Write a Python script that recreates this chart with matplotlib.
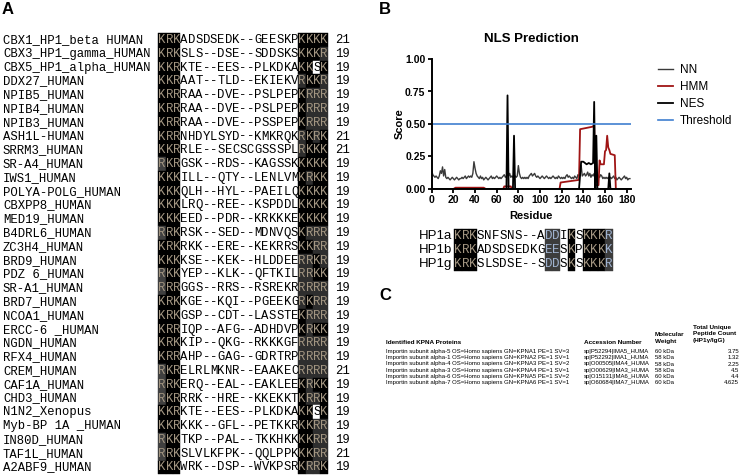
#!/usr/bin/env python
# coding: utf-8

import numpy as np
import matplotlib
matplotlib.use('Agg')
import matplotlib.pyplot as plt
from matplotlib.patches import Rectangle

# --- Panel A: KRK motif alignment ---
names = ['CBX1_HP1_beta HUMAN', 'CBX3_HP1_gamma_HUMAN', 'CBX5_HP1_alpha_HUMAN', 'DDX27_HUMAN',
         'NPIB5_HUMAN', 'NPIB4_HUMAN', 'NPIB3_HUMAN', 'ASH1L-HUMAN', 'SRRM3_HUMAN', 'SR-A4_HUMAN',
         'IWS1_HUMAN', 'POLYA-POLG_HUMAN', 'CBXPP8_HUMAN', 'MED19_HUMAN', 'B4DRL6_HUMAN',
         'ZC3H4_HUMAN', 'BRD9_HUMAN', 'PDZ 6_HUMAN', 'SR-A1_HUMAN', 'BRD7_HUMAN', 'NCOA1_HUMAN',
         'ERCC-6 _HUMAN', 'NGDN_HUMAN', 'RFX4_HUMAN', 'CREM_HUMAN', 'CAF1A_HUMAN', 'CHD3_HUMAN',
         'N1N2_Xenopus', 'Myb-BP 1A _HUMAN', 'IN80D_HUMAN', 'TAF1L_HUMAN', 'A2ABF9_HUMAN']
prefix = ['KRK', 'KRK', 'KKR', 'KKR', 'KRR', 'KRR', 'KRR', 'KRR', 'KKR', 'RKR', 'KKK', 'KKK',
          'KKK', 'KKK', 'RRK', 'KRK', 'KKK', 'RKK', 'RRR', 'KRK', 'KRK', 'KRR', 'KRK', 'KRR',
          'RKR', 'RRK', 'RKR', 'KKR', 'KKR', 'RKK', 'RRK', 'KKK']
middle = ['ADSDSEDK--GEESKP', 'SLS--DSE--SDDSKS', 'KTE--EES--PLKDKA', 'AAT--TLD--EKIEKV',
          'RAA--DVE--PSLPEP', 'RAA--DVE--PSLPEP', 'RAA--DVE--PSSPEP', 'NHDYLSYD--KMKRQK',
          'RLE--SECSCGSSSPL', 'GSK--RDS--KAGSSK', 'ILL--QTY--LENLVM', 'QLH--HYL--PAEILQ',
          'LRQ--REE--KSPDDL', 'EED--PDR--KRKKKE', 'RSK--SED--MDNVQS', 'RKK--ERE--KEKRRS',
          'KSE--KEK--HLDDEE', 'YEP--KLK--QFTKIL', 'GGS--RRS--RSREKR', 'KGE--KQI--PGEEKG',
          'GSP--CDT--LASSTE', 'IQP--AFG--ADHDVP', 'KIP--QKG--RKKKGF', 'AHP--GAG--GDRTRP',
          'ELRLMKNR--EAAKEC', 'ERQ--EAL--EAKLEE', 'RRK--HRE--KKEKKT', 'KTE--EES--PLKDKA',
          'KKK--GFL--PETKKR', 'TKP--PAL--TKKHKK', 'SLVLKFPK--QQLPPK', 'WRK--DSP--WVKPSR']
tail = ['KKKK', 'KKKR', 'KKSK', 'RKKR', 'KRRR', 'KRRR', 'KRRR', 'RKRK', 'RKKK', 'KKKK',
        'KRKK', 'KKKK', 'KKKK', 'KKKK', 'KRRR', 'KKRR', 'RRKR', 'RRKK', 'RRRR', 'RKRR',
        'KRRR', 'KRKK', 'RRRR', 'RRRR', 'RRRR', 'KRKK', 'KRRK', 'KKSK', 'KKRR', 'KKRR',
        'KKRR', 'KRRK']
lengths = [21, 19, 19, 19, 19, 19, 19, 21, 21, 19, 19, 19, 19, 19, 19, 19, 19, 19, 19, 19,
           19, 19, 19, 19, 21, 19, 19, 19, 19, 19, 21, 19]

# --- Panel B: NLS prediction for HP1 ---
residues = np.arange(184)
nn_score = [0.14, 0.11, 0.10, 0.09, 0.10, 0.09, 0.08, 0.10, 0.14, 0.12,
            0.17, 0.10, 0.15, 0.09, 0.08, 0.09, 0.08, 0.07, 0.08, 0.09,
            0.08, 0.07, 0.08, 0.09, 0.08, 0.07, 0.08, 0.08, 0.09, 0.08,
            0.09, 0.10, 0.08, 0.09, 0.10, 0.09, 0.10, 0.09, 0.12, 0.21,
            0.16, 0.12, 0.10, 0.09, 0.08, 0.10, 0.08, 0.09, 0.07, 0.08,
            0.09, 0.08, 0.07, 0.08, 0.09, 0.10, 0.08, 0.09, 0.08, 0.09,
            0.10, 0.09, 0.08, 0.09, 0.08, 0.09, 0.10, 0.11, 0.09, 0.10,
            0.11, 0.10, 0.12, 0.09, 0.10, 0.09, 0.11, 0.10, 0.09, 0.10,
            0.18, 0.12, 0.09, 0.08, 0.09, 0.08, 0.09, 0.08, 0.09, 0.08,
            0.10, 0.11, 0.12, 0.10, 0.11, 0.12, 0.10, 0.09, 0.10, 0.09,
            0.08, 0.09, 0.10, 0.09, 0.08, 0.09, 0.10, 0.09, 0.08, 0.09,
            0.08, 0.09, 0.10, 0.09, 0.08, 0.09, 0.08, 0.10, 0.09, 0.08,
            0.09, 0.08, 0.09, 0.08, 0.10, 0.11, 0.09, 0.10, 0.09, 0.08,
            0.09, 0.08, 0.10, 0.09, 0.08, 0.11, 0.10, 0.12, 0.18, 0.10,
            0.11, 0.12, 0.10, 0.11, 0.13, 0.10, 0.12, 0.09, 0.11, 0.10,
            0.12, 0.11, 0.10, 0.09, 0.10, 0.09, 0.11, 0.10, 0.08, 0.09,
            0.08, 0.09, 0.08, 0.09, 0.08, 0.09, 0.08, 0.09, 0.10, 0.08,
            0.09, 0.07, 0.08, 0.09, 0.08, 0.07, 0.08, 0.09, 0.10, 0.08,
            0.09, 0.07, 0.08, 0.08]
nes_res = [0, 69, 70, 71, 75, 76, 77, 136, 138, 140, 143, 145, 147, 149, 150, 151, 152, 153,
           163, 164, 165, 183]
nes_score = [0, 0, 0.72, 0, 0, 0.41, 0, 0, 0.21, 0.21, 0.19, 0.20, 0.19, 0.20, 0.67, 0, 0.41, 0,
             0, 0.12, 0, 0]
hmm_res = [0, 20, 22, 48, 50, 66, 67, 73, 74, 118, 119, 136, 137, 149, 150, 151, 154, 155,
           156, 159, 160, 161, 162, 163, 164, 165, 169, 170, 183]
hmm_score = [0, 0, 0.01, 0.01, 0, 0, 0.02, 0.02, 0, 0, 0.05, 0.07, 0.46, 0.48, 0.50, 0.03,
             0.03, 0.22, 0.19, 0.19, 0.29, 0.30, 0.41, 0.32, 0.30, 0.27, 0.26, 0, 0]
threshold = 0.5

hp1_names = ['HP1a', 'HP1b', 'HP1g']
hp1_seqs = ['KRKSNFSNS--ADDIKSKKKR', 'KRKADSDSEDKGEESKPKKKK', 'KRKSLSDSE--SDDSKSKKKR']
hp1_black_cols = [0, 1, 2, 15, 17, 18, 19]
hp1_gray_cols = [12, 13, 20]

# --- Panel C: KPNA proteins ---
kpna_proteins = ['Importin subunit alpha-5 OS=Homo sapiens GN=KPNA1 PE=1 SV=3',
                 'Importin subunit alpha-1 OS=Homo sapiens GN=KPNA2 PE=1 SV=1',
                 'Importin subunit alpha-4 OS=Homo sapiens GN=KPNA3 PE=1 SV=2',
                 'Importin subunit alpha-3 OS=Homo sapiens GN=KPNA4 PE=1 SV=1',
                 'Importin subunit alpha-6 OS=Homo sapiens GN=KPNA5 PE=1 SV=2',
                 'Importin subunit alpha-7 OS=Homo sapiens GN=KPNA6 PE=1 SV=1']
kpna_accession = ['sp|P52294|IMA5_HUMA', 'sp|P52292|IMA1_HUMA', 'sp|O00505|IMA4_HUMA',
                  'sp|O00629|IMA3_HUMA', 'sp|O15131|IMA6_HUMA', 'sp|O60684|IMA7_HUMA']
kpna_weight = ['60 kDa', '58 kDa', '58 kDa', '58 kDa', '60 kDa', '60 kDa']
kpna_peptides = ['3.75', '1.32', '2.25', '4.5', '4.4', '4.625']

MONO = 'Liberation Mono'
SANS = 'Liberation Sans'
LETTER_ON_BLACK = '#a39682'


def draw_cell(ax, x, y, w, h, ch, bg, fg, fs):
	ax.add_patch(Rectangle((x, y - h / 2), w, h, facecolor=bg, edgecolor=bg, lw=0.3))
	ax.text(x + w / 2, y, ch, ha='center', va='center', family=MONO, fontsize=fs, color=fg)


def panel_a(ax):
	ax.text(2, 10, 'A', fontsize=12, fontweight='bold', family=SANS, va='center')
	y0, dy, cw, fs = 40.0, 13.79, 7.37, 8.8
	x_name, x_pre = 3.0, 158.3
	x_mid = x_pre + 3 * cw
	x_tail = x_mid + 16 * cw
	for i, name in enumerate(names):
		y = y0 + i * dy
		ax.text(x_name, y, name, ha='left', va='center', family=MONO, fontsize=fs)
		for j, ch in enumerate(prefix[i]):
			bg = '#404040' if (j == 0 and ch == 'R') else 'black'
			draw_cell(ax, x_pre + j * cw, y, cw, dy, ch, bg, LETTER_ON_BLACK, fs)
		for j, ch in enumerate(middle[i]):
			ax.text(x_mid + (j + 0.5) * cw, y, ch, ha='center', va='center', family=MONO, fontsize=fs)
		for j, ch in enumerate(tail[i]):
			if ch == 'S':
				bg, fg = 'white', 'black'
			elif ch == 'R':
				bg, fg = '#2e2e2e', LETTER_ON_BLACK
			else:
				bg, fg = 'black', LETTER_ON_BLACK
			draw_cell(ax, x_tail + j * cw, y, cw, dy, ch, bg, fg, fs)
		ax.text(x_tail + 5 * cw, y, str(lengths[i]), ha='left', va='center', family=MONO, fontsize=fs)


def panel_b(fig, ax_over):
	ax_over.text(379, 10, 'B', fontsize=12, fontweight='bold', family=SANS, va='center')
	left, right, top, bottom = 431.7, 631.0, 59.0, 189.0
	W, H = 746.0, 476.0
	ax = fig.add_axes([left / W, 1 - bottom / H, (right - left) / W, (bottom - top) / H])
	ax.plot(residues, nn_score, color='#3a3a3a', lw=1.0, label='NN')
	ax.plot(hmm_res, hmm_score, color='#a01515', lw=1.3, label='HMM')
	ax.plot(nes_res, nes_score, color='black', lw=1.3, label='NES')
	ax.axhline(threshold, color='#3f7fd0', lw=1.2, label='Threshold')
	ax.set_xlim(0, 184)
	ax.set_ylim(0, 1.0)
	ax.set_xticks(np.arange(0, 181, 20))
	ax.set_yticks([0, 0.25, 0.5, 0.75, 1.0])
	ax.set_yticklabels(['0.00', '0.25', '0.50', '0.75', '1.00'])
	for sp in ['top', 'right']:
		ax.spines[sp].set_visible(False)
	for sp in ['left', 'bottom']:
		ax.spines[sp].set_linewidth(1.4)
	ax.tick_params(width=1.3, length=3, labelsize=7.5, pad=1.5)
	for lab in ax.get_xticklabels() + ax.get_yticklabels():
		lab.set_fontweight('bold')
		lab.set_family(SANS)
	ax.set_xlabel('Residue', fontsize=8, fontweight='bold', family=SANS, labelpad=4)
	ax.set_ylabel('Score', fontsize=8, fontweight='bold', family=SANS, labelpad=0)
	ax.set_title('NLS Prediction', fontsize=9.5, fontweight='bold', family=SANS, pad=12)
	ax.legend(loc='upper left', bbox_to_anchor=(1.08, 1.045), frameon=False,
			  handlelength=1.3, handletextpad=0.6, labelspacing=0.42, prop={'family': SANS, 'size': 8.5})

	# HP1 paralog alignment under the plot
	x0, cw, fs = 454.0, 7.57, 9.0
	for i, (lab, seq) in enumerate(zip(hp1_names, hp1_seqs)):
		y = 236 + i * 14
		ax_over.text(x0 - 2, y, lab, ha='right', va='center', family=SANS, fontsize=9.5)
		for j, ch in enumerate(seq):
			if j in hp1_black_cols:
				draw_cell(ax_over, x0 + j * cw, y, cw, 14, ch, 'black', LETTER_ON_BLACK, fs)
			elif j in hp1_gray_cols:
				draw_cell(ax_over, x0 + j * cw, y, cw, 14, ch, '#3c3c3c', '#9fb2cf', fs)
			else:
				ax_over.text(x0 + (j + 0.5) * cw, y, ch, ha='center', va='center', family=MONO, fontsize=fs)


def panel_c(ax):
	ax.text(379, 296, 'C', fontsize=12, fontweight='bold', family=SANS, va='center')
	fs = 4.6
	x_prot, x_acc, x_mw, x_tot, x_val = 386, 584, 655, 693, 739
	ax.text(x_prot, 342, 'Identified KPNA Proteins', family=SANS, fontsize=fs, fontweight='bold', va='center')
	ax.text(x_acc, 342, 'Accession Number', family=SANS, fontsize=fs, fontweight='bold', va='center')
	ax.text(x_mw, 338, 'Molecular\nWeight', family=SANS, fontsize=fs, fontweight='bold', va='center', linespacing=1.3)
	ax.text(x_tot, 334, 'Total Unique\nPeptide Count\n(HP1\u03b3/IgG)', family=SANS, fontsize=fs,
			fontweight='bold', va='center', linespacing=1.3)
	for i in range(len(kpna_proteins)):
		y = 351.5 + i * 6.25
		ax.text(x_prot, y, kpna_proteins[i], family=SANS, fontsize=4.3, va='center')
		ax.text(x_acc, y, kpna_accession[i], family=SANS, fontsize=4.3, va='center')
		ax.text(x_mw, y, kpna_weight[i], family=SANS, fontsize=4.3, va='center')
		ax.text(x_val, y, kpna_peptides[i], family=SANS, fontsize=4.3, va='center', ha='right')


def main():
	fig = plt.figure(figsize=(7.46, 4.76), dpi=100)
	ax_over = fig.add_axes([0, 0, 1, 1])
	ax_over.set_xlim(0, 746)
	ax_over.set_ylim(476, 0)
	ax_over.axis('off')
	panel_a(ax_over)
	panel_b(fig, ax_over)
	panel_c(ax_over)
	fig.savefig('out.png', dpi=100)

#--------------------------------------------------------------------

if '__main__' == __name__:
	main()
